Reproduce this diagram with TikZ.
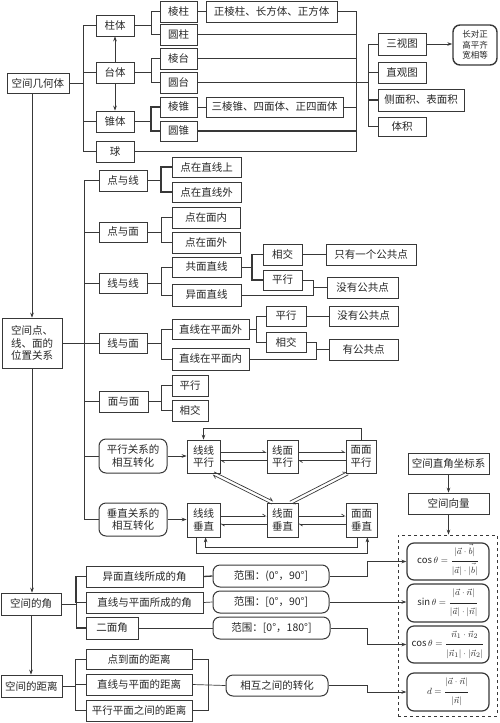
\documentclass[tikz,border=0pt]{standalone}
\usepackage{amsmath}
\usepackage{fontspec}
\setmainfont{Noto Sans CJK SC}
\usetikzlibrary{arrows.meta,calc}
\definecolor{lc}{gray}{0.22}
\definecolor{tc}{gray}{0.15}
\tikzset{
  box/.style={draw=lc, line width=0.7pt, inner sep=0pt, align=center, text=tc, font=\fontsize{10.5}{12.5}\selectfont},
  rbox/.style={box, rounded corners=7pt, line width=1pt},
  fbox/.style={rbox, line width=1.2pt, font=\fontsize{9.5}{11}\selectfont},
  ln/.style={draw=lc, line width=0.7pt},
  tk/.style={line width=1.3pt},
  arr/.style={-{Stealth[length=5pt,width=3.6pt]}},
  harp/.style={-{Straight Barb[length=3pt,width=4pt,harpoon]}},
}
\newcommand\bx[7][]{\node[box,#1,minimum width={(#5-#3)*1pt},minimum height={(#6-#4)*1pt}] (#2) at ({(#3+#5)/2},{(#4+#6)/2}) {#7};}
\newcommand\nfr[2]{\dfrac{#1\vphantom{\Big|}}{\vphantom{\Big|}#2}}
\newcommand\vb{\vec{\vphantom{\big|}b}}
\begin{document}
\begin{tikzpicture}[x=1pt,y=-1pt]
\useasboundingbox (0,0) rectangle (500,723);
% ---------- part 1 ----------
\bx{kj}{7}{73}{69}{93}{空间几何体}
\bx{zt}{96}{15}{134}{36}{柱体}
\bx{tt}{96}{62}{134}{83}{台体}
\bx{zht}{96}{111}{134}{132}{锥体}
\bx{qiu}{96}{141}{134}{162}{球}
\bx{lz}{160}{1}{197}{22}{棱柱}
\bx{yz}{160}{24}{197}{45}{圆柱}
\bx{lt}{160}{48}{197}{69}{棱台}
\bx{yt}{160}{72}{197}{93}{圆台}
\bx{lzh}{160}{97}{197}{117}{棱锥}
\bx{yzh}{160}{121}{197}{141}{圆锥}
\bx{zlz}{206}{1}{337}{22}{正棱柱、长方体、正方体}
\bx{slz}{206}{97}{343}{117}{三棱锥、四面体、正四面体}
\bx{stt}{378}{33}{426}{55}{三视图}
\bx{zgt}{378}{62}{426}{83}{直观图}
\bx{cmj}{378}{89}{464}{111}{侧面积、表面积}
\bx{tj}{378}{117}{426}{136}{体积}
\bx[rbox,line width=1.4pt,font=\fontsize{8.5}{10.5}\selectfont]{cdz}{453}{25}{497}{65}{长对正\\高平齐\\宽相等}
\coordinate (xa) at (83,0);
\coordinate (xb) at (151,0);
\coordinate (xc) at (356,0);
\coordinate (xd) at (368,0);
\draw[ln] (kj.east) -- (kj.east -| xa);
\draw[ln] (zt.west) -- (zt.west -| xa) -- (qiu.west -| xa) -- (qiu.west);
\draw[ln] (tt.west) -- (tt.west -| xa);
\draw[ln] (zht.west) -- (zht.west -| xa);
\draw[ln,arr,line width=1pt] (tt.north) -- (zt.south);
\draw[ln,arr,line width=1pt] (tt.south) -- (zht.north);
\draw[ln] (zt.east) -- (zt.east -| xb);
\draw[ln] (lz.west) -- (lz.west -| xb) -- (yz.west -| xb) -- (yz.west);
\draw[ln] (tt.east) -- (tt.east -| xb);
\draw[ln] (lt.west) -- (lt.west -| xb) -- (yt.west -| xb) -- (yt.west);
\draw[ln] (zht.east) -- (zht.east -| xb);
\draw[ln,tk] (lzh.west) -- (lzh.west -| xb) -- (yzh.west -| xb) -- (yzh.west);
\draw[ln] (lz.east) -- (zlz.west);
\draw[ln] (lzh.east) -- (slz.west);
\draw[ln] (zlz.east) -- (zlz.east -| xc) -- (qiu.east -| xc) -- (qiu.east);
\draw[ln] (yz.east) -- (yz.east -| xc);
\draw[ln] (lt.east) -- (lt.east -| xc);
\draw[ln] (yt.east) -- (yt.east -| xd);
\draw[ln] (slz.east) -- (slz.east -| xc);
\draw[ln,tk] (yzh.east) -- (yzh.east -| xc);
\draw[ln] (stt.west) -- (stt.west -| xd) -- (tj.west -| xd) -- (tj.west);
\draw[ln] (zgt.west) -- (zgt.west -| xd);
\draw[ln,tk] (cmj.west) -- (cmj.west -| xd);
\draw[ln,arr,line width=1pt] (stt.east) -- (stt.east -| cdz.west);
% ---------- part 2 ----------
\bx{wz}{2}{318}{62}{368}{空间点、\\线、面的\\位置关系}
\bx{dyx}{99}{170}{147}{191}{点与线}
\bx{dym}{99}{222}{147}{242}{点与面}
\bx{xyx}{99}{273}{147}{293}{线与线}
\bx{xym}{99}{333}{147}{353}{线与面}
\bx{mym}{99}{391}{148}{412}{面与面}
\bx[rbox]{pxzh}{99}{439}{167}{473}{平行关系的\\相互转化}
\bx[rbox]{czzh}{99}{503}{167}{536}{垂直关系的\\相互转化}
\bx{d1}{172}{157}{241}{177}{点在直线上}
\bx{d2}{172}{182}{241}{202}{点在直线外}
\bx{d3}{172}{207}{240}{228}{点在面内}
\bx{d4}{172}{232}{240}{253}{点在面外}
\bx{d5}{172}{257}{241}{277}{共面直线}
\bx{d6}{172}{284}{241}{306}{异面直线}
\bx{d7}{172}{319}{249}{339}{直线在平面外}
\bx{d8}{172}{348}{249}{370}{直线在平面内}
\bx{d9}{172}{375}{208}{396}{平行}
\bx{d10}{172}{400}{208}{421}{相交}
\bx{e1}{263}{244}{302}{265}{相交}
\bx{e2}{326}{244}{416}{265}{只有一个公共点}
\bx{e3}{263}{270}{302}{290}{平行}
\bx{e4}{327}{277}{398}{298}{没有公共点}
\bx{f1}{266}{306}{306}{326}{平行}
\bx{f2}{329}{306}{398}{326}{没有公共点}
\bx{f3}{266}{332}{306}{352}{相交}
\bx{f4}{329}{339}{398}{360}{有公共点}
\coordinate (xe) at (84,0);
\coordinate (xf) at (161,0);
\coordinate (xg) at (252,0);
\coordinate (xh) at (313,0);
\coordinate (xi) at (256,0);
\coordinate (xj) at (316,0);
\draw[ln,arr] (kj.south -| wz.north) -- (wz.north);
\draw[ln] (wz.east) -- (wz.east -| xe);
\draw[ln] (dyx.west) -- (dyx.west -| xe) -- (czzh.west -| xe) -- (czzh.west);
\foreach \n in {dym,xyx,xym,mym,pxzh} \draw[ln] (\n.west) -- (\n.west -| xe);
\draw[ln,tk] (dyx.east) -- (dyx.east -| xf);
\draw[ln,tk] (d1.west) -- (d1.west -| xf) -- (d2.west -| xf) -- (d2.west);
\draw[ln] (dym.east) -- (dym.east -| xf);
\draw[ln] (d3.west) -- (d3.west -| xf) -- (d4.west -| xf) -- (d4.west);
\draw[ln] (xyx.east) -- (xyx.east -| xf);
\draw[ln] (d5.west) -- (d5.west -| xf) -- (d6.west -| xf) -- (d6.west);
\draw[ln] (xym.east) -- (xym.east -| xf);
\draw[ln] (d7.west) -- (d7.west -| xf) -- (d8.west -| xf) -- (d8.west);
\draw[ln] (mym.east) -- (mym.east -| xf);
\draw[ln] (d9.west) -- (d9.west -| xf) -- (d10.west -| xf) -- (d10.west);
\draw[ln] (d5.east) -- (d5.east -| xg);
\draw[ln,tk] (e1.west) -- (e1.west -| xg) -- (e3.west -| xg) -- (e3.west);
\draw[ln] (e1.east) -- (e2.west);
\draw[ln] (e3.east) -- (e3.east -| xh) -- (d6.east -| xh) -- (d6.east);
\draw[ln] (e4.west -| xh) -- (e4.west);
\draw[ln] (d7.east) -- (d7.east -| xi);
\draw[ln] (f1.west) -- (f1.west -| xi) -- (f3.west -| xi) -- (f3.west);
\draw[ln] (f1.east) -- (f2.west);
\draw[ln] (f3.east) -- (f3.east -| xj) -- (d8.east -| xj) -- (d8.east);
\draw[ln] (f4.west -| xj) -- (f4.west);
% ---------- transformations ----------
\bx{g1}{187}{440}{220}{473}{线线\\平行}
\bx{g2}{267}{440}{298}{473}{线面\\平行}
\bx{g3}{346}{440}{376}{473}{面面\\平行}
\bx{h1}{187}{503}{220}{537}{线线\\垂直}
\bx{h2}{267}{503}{298}{537}{线面\\垂直}
\bx{h3}{346}{503}{377}{537}{面面\\垂直}
\coordinate (ytop) at (0,428);
\draw[ln,arr] (pxzh.east) -- (pxzh.east -| g1.west);
\draw[ln,arr] (czzh.east) -- (czzh.east -| h1.west);
\draw[ln,arr] (g3.north) -- (g3.north |- ytop) -| (g1.north);
\draw[ln,harp] ($(g1.east)+(0,-4)$) -- ($(g2.west)+(0,-4)$);
\draw[ln,harp] ($(g2.west)+(0,4)$) -- ($(g1.east)+(0,4)$);
\draw[ln,harp] ($(g2.east)+(0,-4)$) -- ($(g3.west)+(0,-4)$);
\draw[ln,harp] ($(g3.west)+(0,4)$) -- ($(g2.east)+(0,4)$);
\draw[ln,harp] ($(h1.east)+(0,-4)$) -- ($(h2.west)+(0,-4)$);
\draw[ln,harp] ($(h2.west)+(0,4)$) -- ($(h1.east)+(0,4)$);
\draw[ln,harp] ($(h2.east)+(0,-4)$) -- ($(h3.west)+(0,-4)$);
\draw[ln,harp] ($(h3.west)+(0,4)$) -- ($(h2.east)+(0,4)$);
\coordinate (dA) at ($(g1.south east)+(-7,0)$);
\coordinate (dB) at ($(h2.north)+(-10,0)$);
\coordinate (dC) at ($(g3.south west)+(2,0)$);
\coordinate (dD) at ($(h2.north)+(8,0)$);
\draw[ln,harp] ($(dA)!1.6pt!90:(dB)$) -- ($(dB)!1.6pt!-90:(dA)$);
\draw[ln,harp] ($(dB)!1.6pt!90:(dA)$) -- ($(dA)!1.6pt!-90:(dB)$);
\draw[ln,harp] ($(dC)!1.6pt!90:(dD)$) -- ($(dD)!1.6pt!-90:(dC)$);
\draw[ln,harp] ($(dD)!1.6pt!90:(dC)$) -- ($(dC)!1.6pt!-90:(dD)$);
\draw[ln,arr] ($(h1.south west)+(10,0)$) -- ++(0,16) -| ($(h3.south east)+(-10,0)$);
\draw[ln,arr] ($(h3.south west)+(12,0)$) -- ++(0,10) -| ($(h1.south west)+(19,0)$);
% ---------- part 4 ----------
\bx{zjz}{408}{453}{489}{474}{空间直角坐标系}
\bx{xl}{408}{493}{489}{514}{空间向量}
\node[draw=lc, dashed, line width=0.8pt, minimum width=99pt, minimum height=181pt, inner sep=0pt] (fb) at (447.5,625.5) {};
\bx[fbox]{r1}{407}{543}{489}{580}{$\cos\theta=\nfr{|\vec a\cdot\vb|}{|\vec a|\cdot|\vb|}$}
\bx[fbox]{r2}{407}{584}{489}{622}{$\sin\theta=\nfr{|\vec a\cdot\vec n|}{|\vec a|\cdot|\vec n|}$}
\bx[fbox]{r3}{407}{626}{489}{663}{$\cos\theta=\nfr{\vec n_1\cdot\vec n_2}{|\vec n_1|\cdot|\vec n_2|}$}
\bx[fbox]{r4}{407}{673}{489}{711}{$d=\nfr{|\vec a\cdot\vec n|}{|\vec n|}$}
\draw[ln,arr] (zjz.south) -- (xl.north);
\draw[ln,arr] (xl.south) -- (xl.south |- fb.north);
\bx{jiao}{1}{593}{61}{615}{空间的角}
\bx{jl}{1}{675}{62}{697}{空间的距离}
\bx{j1}{86}{566}{203}{587}{异面直线所成的角}
\bx{j2}{86}{592}{203}{613}{直线与平面所成的角}
\bx{j3}{86}{617}{138}{639}{二面角}
\bx[rbox]{k1}{213}{565}{329}{587}{范围：(0°，90°]}
\bx[rbox]{k2}{213}{591}{329}{613}{范围：[0°，90°]}
\bx[rbox]{k3}{213}{617}{330}{639}{范围：[0°，180°]}
\bx{l1}{86}{649}{192}{669}{点到面的距离}
\bx{l2}{86}{674}{192}{695}{直线与平面的距离}
\bx{l3}{86}{700}{192}{721}{平行平面之间的距离}
\bx[rbox]{m}{226}{675}{328}{696}{相互之间的转化}
\coordinate (xm) at (76,0);
\coordinate (xn) at (367,0);
\coordinate (xo) at (75,0);
\coordinate (xp) at (208,0);
\draw[ln,arr] (wz.south) -- (wz.south |- jiao.north);
\draw[ln,arr] (jiao.south) -- (jiao.south |- jl.north);
\draw[ln] (jiao.east) -- (jiao.east -| xm);
\draw[ln,tk] (j1.west) -- (j1.west -| xm) -- (j2.west -| xm);
\draw[ln] (j2.west -| xm) -- (j3.west -| xm);
\draw[ln,tk] (j3.west -| xm) -- (j3.west);
\draw[ln] (j2.west) -- (j2.west -| xm);
\draw[ln,tk] (j1.east) -- (k1.west);
\draw[ln] (j2.east) -- (k2.west);
\draw[ln] (j3.east) -- (k3.west);
\draw[ln,arr] (k1.east) -- (k1.east -| xn) |- (r1.west);
\draw[ln,arr] (k2.east) -- (k2.east -| r2.west);
\draw[ln,arr] (k3.east) -- (k3.east -| xn) |- (r3.west);
\draw[ln] (jl.east) -- (jl.east -| xo);
\draw[ln] (l1.west) -- (l1.west -| xo) -- (l3.west -| xo) -- (l3.west);
\draw[ln] (l2.west) -- (l2.west -| xo);
\draw[ln] (l1.east) -- (l1.east -| xp) -- (l3.east -| xp) -- (l3.east);
\draw[ln] (l2.east) -- (m.west);
\draw[ln,arr] (m.east) -- (m.east -| xn) |- (r4.west);
\end{tikzpicture}
\end{document}
